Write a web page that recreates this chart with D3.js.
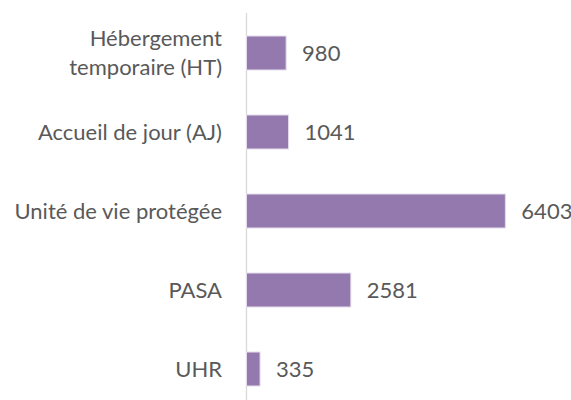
<!DOCTYPE html>
<html>
<head>
<meta charset="utf-8">
<script src="https://cdn.jsdelivr.net/npm/d3@7.9.0/dist/d3.min.js"></script>
<style>
  body { margin: 0; background: #fff; }
  svg { display: block; }
  text { font-family: Lato, "Open Sans", sans-serif; fill: #595959; }
</style>
</head>
<body>
<div id="chart"></div>
<script>
const categories = [
  ['Hébergement', 'temporaire (HT)'],
  ['Accueil de jour (AJ)'],
  ['Unité de vie protégée'],
  ['PASA'],
  ['UHR']
];
const values = [980, 1041, 6403, 2581, 335];

const width = 571;
const height = 400;
const fontSize = 22;

const svg = d3.select('#chart')
  .append('svg')
  .attr('width', width)
  .attr('height', height);

const keys = categories.map(c => c.join(' '));

const yScale = d3.scaleBand()
  .domain(keys)
  .range([13.5, 408.5])
  .paddingInner(0.57)
  .paddingOuter(0.285);

const xScale = d3.scaleLinear()
  .domain([0, 7000])
  .range([246.5, 529.5]);

// axis line
svg.append('line')
  .attr('x1', xScale(0)).attr('x2', xScale(0))
  .attr('y1', 13).attr('y2', height)
  .attr('stroke', '#d9d9d9')
  .attr('stroke-width', 1.3);

const rows = categories.map((c, i) => ({ lines: c, key: keys[i], value: values[i] }));

svg.append('g')
  .selectAll('rect')
  .data(rows)
  .join('rect')
  .attr('x', xScale(0))
  .attr('y', d => yScale(d.key))
  .attr('width', d => xScale(d.value) - xScale(0))
  .attr('height', yScale.bandwidth())
  .attr('fill', '#9479ae')
  .attr('stroke', '#e4dcec')
  .attr('stroke-width', 1);

// category labels
const labels = svg.append('g')
  .selectAll('text')
  .data(rows)
  .join('text')
  .attr('text-anchor', 'end')
  .attr('font-size', fontSize)
  .attr('x', 222)
  .attr('y', d => yScale(d.key) + yScale.bandwidth() / 2);

labels.selectAll('tspan')
  .data(d => d.lines.map((l, i) => ({ l, i, n: d.lines.length })))
  .join('tspan')
  .attr('x', 222)
  .attr('dy', d => d.i === 0 ? `${0.35 - (d.n - 1) * 0.66}em` : '1.32em')
  .text(d => d.l);

// value labels
svg.append('g')
  .selectAll('text')
  .data(rows)
  .join('text')
  .attr('font-size', fontSize)
  .attr('x', d => xScale(d.value) + 16)
  .attr('y', d => yScale(d.key) + yScale.bandwidth() / 2)
  .attr('dy', '0.35em')
  .text(d => d.value);
</script>
</body>
</html>
